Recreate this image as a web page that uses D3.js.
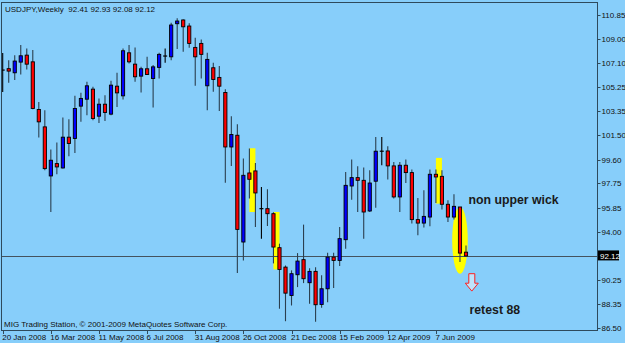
<!DOCTYPE html>
<html>
<head>
<meta charset="utf-8">
<script src="https://cdnjs.cloudflare.com/ajax/libs/d3/7.8.5/d3.min.js"></script>
<style>
  body { margin: 0; background: #87cefa; }
  svg { display: block; }
  text { font-family: "Liberation Sans Narrow", "Arial Narrow", "Liberation Sans", sans-serif; }
</style>
</head>
<body>
<div id="chart"></div>
<script>
// weekly USDJPY bars, 20 Jan 2008 .. Jul 2009
var opens  = [106.55,106.66,106.34,107.17,107.71,107.19,103.49,102.14, 98.33, 99.29,
               98.95,101.34,101.24,103.75,104.29,105.07,102.97,103.90,103.13,105.30,
              104.55,107.89,107.01,106.08,106.65,105.90,106.76,107.64,107.58,110.15,
              110.44,109.97,108.31,108.62,105.33,106.73,105.98,104.81,100.58,101.49,
               93.20, 98.56, 98.72, 95.79, 95.79, 95.40, 92.76, 91.25, 89.05, 90.66,
               91.83, 90.04, 90.92, 88.35, 89.57, 92.03, 91.77, 93.38, 97.55, 98.20,
               97.99, 95.61, 97.92,100.25,100.27, 99.11, 96.70, 99.16, 98.59, 94.94,
               94.67, 95.14, 98.46, 98.30, 96.13, 95.14, 95.92, 92.41];
var highs  = [107.87,107.32,107.71,108.49,108.23,108.10,104.08,103.44,100.38,100.93,
              102.87,102.74,104.55,104.78,105.64,105.25,104.35,104.60,105.72,106.34,
              108.23,108.49,108.31,106.80,107.58,106.94,107.89,108.23,110.23,110.57,
              110.49,110.18,109.06,108.93,107.89,107.11,106.86,105.07,102.97,102.35,
               99.68,100.46, 99.34, 97.47, 97.29, 95.51, 93.07, 91.38, 91.00, 92.34,
               94.55, 91.17, 91.25, 90.61, 92.37, 92.37, 94.36, 98.64, 99.60, 99.08,
               98.98, 98.77,101.36,101.36,100.64, 99.42, 99.42, 99.60, 98.83, 96.62,
               97.22, 98.83, 98.83, 98.77, 96.44, 96.90, 95.92, 92.93];
var lows   = [104.84,105.56,105.77,106.21,106.60,103.50,101.31, 98.77, 95.53, 98.46,
               98.90, 99.86,100.12,102.53,103.05,102.66,102.45,102.60,103.05,103.69,
              104.27,107.07,105.64,104.81,106.16,103.65,105.90,107.11,107.32,108.18,
              107.97,108.28,105.33,105.90,103.44,104.86,103.38, 97.81, 99.11, 90.79,
               91.77, 96.57, 94.36, 93.46, 94.44, 91.54, 88.02, 87.05, 88.27, 89.70,
               90.01, 88.41, 87.00, 88.09, 88.53, 89.62, 91.33, 92.68, 96.49, 95.53,
               93.46, 95.53, 95.87, 99.16, 98.05, 96.57, 95.53, 97.78, 94.63, 93.72,
               94.32, 94.42, 96.23, 95.72, 94.75, 94.94, 91.64, 92.08];
var closes = [106.55,106.47,107.25,107.66,107.01,103.57,102.53, 98.90, 99.55, 99.03,
              101.34,100.85,103.57,104.35,105.33,102.79,103.90,103.26,105.38,104.78,
              108.05,107.19,106.03,106.65,106.21,106.80,107.77,107.64,110.05,110.36,
              109.91,108.62,107.58,107.77,107.38,105.82,105.30,100.58,101.55, 94.18,
               98.38, 98.07, 97.01, 95.79, 95.40, 92.81, 91.07, 89.23, 90.74, 91.72,
               90.35, 90.92, 88.33, 89.57, 92.03, 91.77, 93.46, 97.60, 98.20, 97.99,
               95.53, 97.78,100.25,100.25, 99.11, 96.70, 99.16, 98.59, 94.94, 94.67,
               95.19, 98.46, 98.25, 96.13, 95.14, 95.97, 92.34, 92.12];

var dateLabels = ["20 Jan 2008","16 Mar 2008","11 May 2008","6 Jul 2008","31 Aug 2008",
                  "26 Oct 2008","21 Dec 2008","15 Feb 2009","12 Apr 2009","7 Jun 2009"];
var dateIdx = [0, 8, 16, 24, 32, 40, 48, 56, 64, 72];
var priceTicks = [110.85,109.00,107.10,105.25,103.35,101.50,99.60,97.75,95.85,94.00,90.25,88.35,86.50];
var lastPrice = 92.12;

// yellow marks: [barFrom, barTo, priceTop, priceBottom]
var marks = [[41, 42, 100.48, 95.53], [45, 46, 95.53, 91.07], [72, 73, 99.73, 96.18]];
var ellipseMark = [76, 95.92, 90.74];

var W = 625, H = 343;
var plotL = 1.5, plotR = 597.5, plotT = 2.5, plotB = 330.5;

var svg = d3.select("#chart").append("svg").attr("width", W).attr("height", H);

var xs = d3.scaleLinear().domain([0, 77]).range([2.7, 466]);
var ys = d3.scaleLinear().domain([86.50, 110.85]).range([328.3, 14.7]);

svg.append("defs").append("clipPath").attr("id", "plotclip")
  .append("rect").attr("x", plotL + 0.5).attr("y", plotT + 0.5)
  .attr("width", plotR - plotL - 1).attr("height", plotB - plotT - 1);

var plot = svg.append("g").attr("clip-path", "url(#plotclip)");

// highlights behind the candles
plot.selectAll("rect.mark").data(marks).enter().append("rect")
  .attr("class", "mark")
  .attr("x", function(d) { return xs(d[0]); })
  .attr("width", function(d) { return xs(d[1]) - xs(d[0]); })
  .attr("y", function(d) { return ys(d[2]); })
  .attr("height", function(d) { return ys(d[3]) - ys(d[2]); })
  .attr("fill", "#ffff00");

plot.append("ellipse")
  .attr("cx", xs(ellipseMark[0]))
  .attr("cy", (ys(ellipseMark[1]) + ys(ellipseMark[2])) / 2)
  .attr("rx", 7.8)
  .attr("ry", (ys(ellipseMark[2]) - ys(ellipseMark[1])) / 2)
  .attr("fill", "#ffff00");

// current price line
plot.append("line")
  .attr("x1", plotL).attr("x2", plotR)
  .attr("y1", Math.round(ys(lastPrice)) + 0.5).attr("y2", Math.round(ys(lastPrice)) + 0.5)
  .attr("stroke", "#44535e").attr("stroke-width", 1);

var idx = d3.range(opens.length);

plot.selectAll("line.wick").data(idx).enter().append("line")
  .attr("class", "wick")
  .attr("x1", function(i) { return xs(i); }).attr("x2", function(i) { return xs(i); })
  .attr("y1", function(i) { return ys(highs[i]); })
  .attr("y2", function(i) { return ys(lows[i]); })
  .attr("stroke", function(i) { return opens[i] == closes[i] ? "#000" : "#2b3f4f"; })
  .attr("stroke-width", 1.1);

plot.selectAll("rect.body").data(idx.filter(function(i) { return opens[i] != closes[i]; }))
  .enter().append("rect")
  .attr("class", "body")
  .attr("x", function(i) { return xs(i) - 1.6; })
  .attr("width", 3.2)
  .attr("y", function(i) { return ys(Math.max(opens[i], closes[i])); })
  .attr("height", function(i) { return Math.max(1, Math.abs(ys(opens[i]) - ys(closes[i]))); })
  .attr("fill", function(i) { return closes[i] > opens[i] ? "#0000ff" : "#ff0000"; })
  .attr("stroke", "#000").attr("stroke-width", 0.9);

plot.selectAll("line.doji").data(idx.filter(function(i) { return opens[i] == closes[i]; }))
  .enter().append("line")
  .attr("class", "doji")
  .attr("x1", function(i) { return xs(i) - 2; }).attr("x2", function(i) { return xs(i) + 2; })
  .attr("y1", function(i) { return ys(opens[i]); }).attr("y2", function(i) { return ys(opens[i]); })
  .attr("stroke", "#000").attr("stroke-width", 1.2);

// frame
svg.append("rect")
  .attr("x", plotL).attr("y", plotT)
  .attr("width", plotR - plotL).attr("height", plotB - plotT)
  .attr("fill", "none").attr("stroke", "#2e4a5c").attr("stroke-width", 1);

// right price scale
var pt = svg.append("g");
pt.selectAll("line").data(priceTicks).enter().append("line")
  .attr("x1", plotR).attr("x2", plotR + 3)
  .attr("y1", function(d) { return Math.round(ys(d)) + 0.5; })
  .attr("y2", function(d) { return Math.round(ys(d)) + 0.5; })
  .attr("stroke", "#2e4a5c");
pt.selectAll("text").data(priceTicks).enter().append("text")
  .attr("x", plotR + 4)
  .attr("y", function(d) { return ys(d) + 3; })
  .attr("font-size", 8).attr("fill", "#111")
  .text(function(d) { return d.toFixed(2); });

svg.append("rect")
  .attr("x", plotR + 0.5).attr("y", ys(lastPrice) - 5.5)
  .attr("width", 21).attr("height", 10).attr("fill", "#000");
svg.append("text")
  .attr("x", plotR + 2.5).attr("y", ys(lastPrice) + 3)
  .attr("font-size", 8).attr("fill", "#fff")
  .text(lastPrice.toFixed(2));

// time scale
var tt = svg.append("g");
tt.selectAll("line").data(dateIdx).enter().append("line")
  .attr("x1", function(d) { return Math.round(xs(d)) + 0.5; })
  .attr("x2", function(d) { return Math.round(xs(d)) + 0.5; })
  .attr("y1", plotB).attr("y2", plotB + 3.5)
  .attr("stroke", "#2e4a5c");
tt.selectAll("text").data(dateIdx).enter().append("text")
  .attr("x", function(d) { return xs(d) - 0.5; })
  .attr("y", 339.5)
  .attr("font-size", 8).attr("fill", "#111")
  .text(function(d, k) { return dateLabels[k]; });

// header and footer text
svg.append("text").attr("x", 5).attr("y", 11.5)
  .attr("font-size", 8).attr("fill", "#111")
  .attr("xml:space", "preserve")
  .text("USDJPY,Weekly  92.41 92.93 92.08 92.12");
svg.append("text").attr("x", 4).attr("y", 327)
  .attr("font-size", 8).attr("fill", "#111")
  .text("MIG Trading Station, \u00a9 2001-2009 MetaQuotes Software Corp.");

// annotations
svg.append("text").attr("x", xs(77) + 2.5).attr("y", ys(96.13))
  .style("font-family", "'Liberation Sans', Arial, sans-serif")
  .attr("font-size", 12.3).attr("font-weight", "bold").attr("fill", "#1a1a1a")
  .text("non upper wick");
svg.append("text").attr("x", xs(77) + 3.5).attr("y", ys(87.63))
  .style("font-family", "'Liberation Sans', Arial, sans-serif")
  .attr("font-size", 12.3).attr("font-weight", "bold").attr("fill", "#1a1a1a")
  .text("retest 88");

// hollow down arrow
var ax = xs(77) + 5.8, ay = ys(90.74);
var arrow = [[-3, 0], [3, 0], [3, 9.5], [6.5, 9.5], [0, 17.4], [-6.5, 9.5], [-3, 9.5]];
svg.append("path")
  .attr("d", d3.line()(arrow.map(function(p) { return [ax + p[0], ay + p[1]]; })) + "Z")
  .attr("fill", "#e2f1fb").attr("fill-opacity", 0.6)
  .attr("stroke", "#ff2020").attr("stroke-width", 1);
</script>
</body>
</html>
